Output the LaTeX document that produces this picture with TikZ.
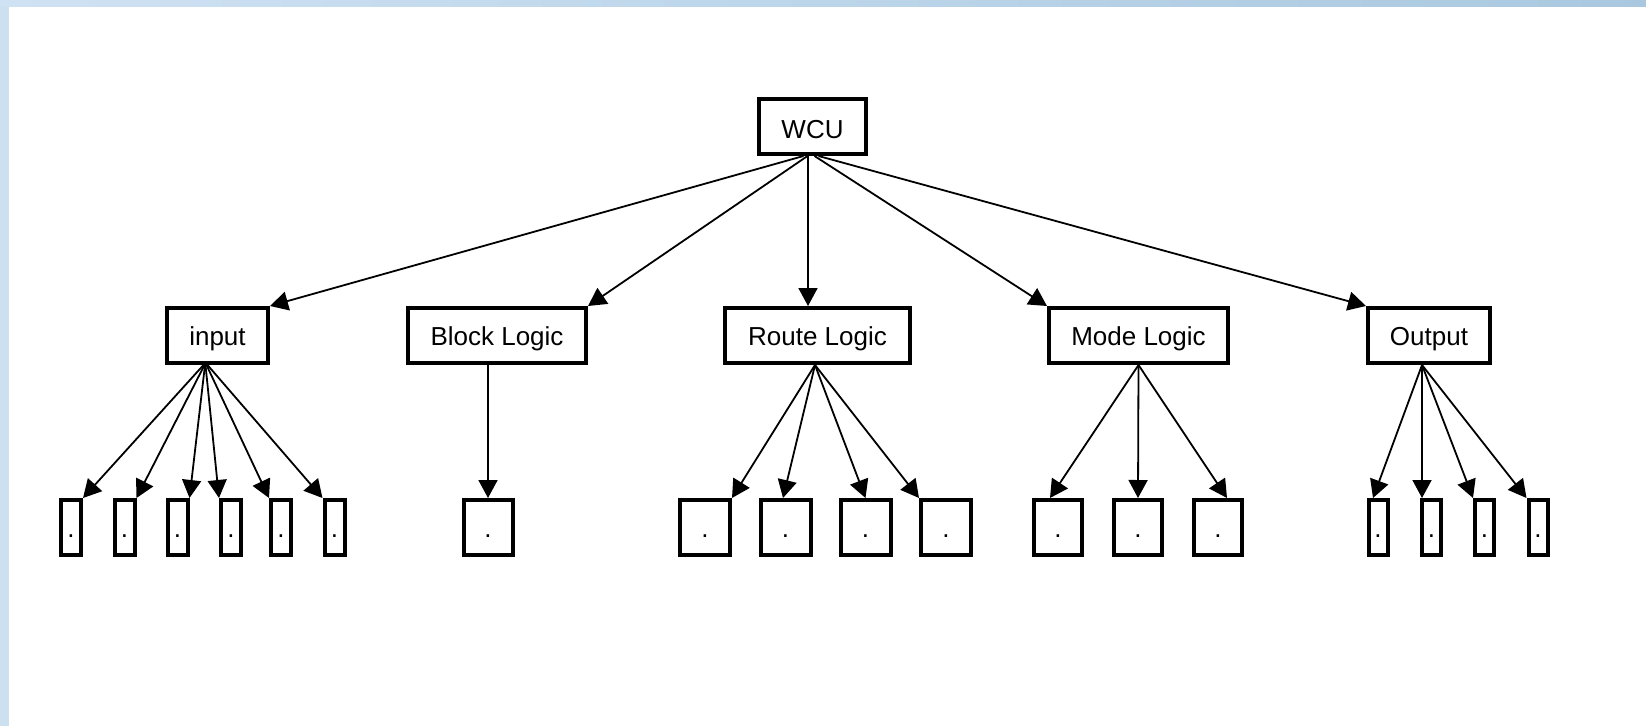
\documentclass[tikz,border=0pt]{standalone}
\usepackage{fontspec}
\setmainfont{Liberation Sans}
\usetikzlibrary{arrows.meta}
\definecolor{bandL}{HTML}{CFE2F3}
\definecolor{bandR}{HTML}{A9C8DF}
\definecolor{bandSide}{HTML}{CCE0F0}
\begin{document}
\begin{tikzpicture}[x=1pt,y=-1pt,
  box/.style={draw,line width=4pt,inner sep=0pt,minimum height=55pt,
    text height=20pt,text depth=0pt,font=\fontsize{26}{30}\selectfont},
  leaf/.style={box,minimum width=#1},
  conn/.style={line width=1.8pt,-{Triangle[width=19pt,length=18pt]}}]
\useasboundingbox (0,0) rectangle (1646,726);
% page frame
\fill[white] (0,0) rectangle (1646,726);
\fill[bandSide] (0,0) rectangle (9,726);
\shade[left color=bandL,right color=bandR] (0,0) rectangle (1646,6);

% root
\node[box,minimum width=107pt,text height=23pt] (wcu) at (812.5,126.5) {WCU};

% second level
\node[box,minimum width=101pt] (in) at (217.5,335.5) {input};
\node[box,minimum width=178pt] (bl) at (497,335.5) {Block Logic};
\node[box,minimum width=185pt] (rt) at (817.5,335.5) {Route Logic};
\node[box,minimum width=179pt] (md) at (1138.5,335.5) {Mode Logic};
\node[box,minimum width=122pt] (op) at (1429,335.5) {Output};

% leaves
\node[leaf=20pt] (i1) at (71,527.5) {.};
\node[leaf=20pt] (i2) at (124.5,527.5) {.};
\node[leaf=20pt] (i3) at (177.5,527.5) {.};
\node[leaf=20pt] (i4) at (231,527.5) {.};
\node[leaf=20pt] (i5) at (281,527.5) {.};
\node[leaf=20pt] (i6) at (334.5,527.5) {.};
\node[leaf=49pt] (b1) at (488,527.5) {.};
\node[leaf=50pt] (r1) at (705,527.5) {.};
\node[leaf=50pt] (r2) at (785.5,527.5) {.};
\node[leaf=50pt] (r3) at (865.5,527.5) {.};
\node[leaf=50pt] (r4) at (946,527.5) {.};
\node[leaf=48pt] (m1) at (1058,527.5) {.};
\node[leaf=48pt] (m2) at (1138,527.5) {.};
\node[leaf=48pt] (m3) at (1218,527.5) {.};
\node[leaf=19pt] (o1) at (1378,527.5) {.};
\node[leaf=19pt] (o2) at (1431.5,527.5) {.};
\node[leaf=19pt] (o3) at (1484.5,527.5) {.};
\node[leaf=19pt] (o4) at (1538,527.5) {.};

% root to second level
\draw[conn] ([xshift=-9pt]wcu.south) -- (in.north east);
\draw[conn] ([xshift=-5pt]wcu.south) -- (bl.north east);
\draw[conn] ([xshift=-4.5pt]wcu.south) -- ([xshift=-9.5pt]rt.north);
\draw[conn] ([xshift=2pt]wcu.south) -- (md.north west);
\draw[conn] ([xshift=6pt]wcu.south) -- (op.north west);

% input
\draw[conn] ([xshift=-14pt]in.south) -- (i1.north east);
\draw[conn] ([xshift=-13pt]in.south) -- (i2.north east);
\draw[conn] ([xshift=-12.5pt]in.south) -- (i3.north east);
\draw[conn] ([xshift=-12pt]in.south) -- (i4.north west);
\draw[conn] ([xshift=-11pt]in.south) -- (i5.north west);
\draw[conn] ([xshift=-10pt]in.south) -- (i6.north west);

% block logic
\draw[conn] (bl.south -| b1.north) -- (b1.north);

% route logic
\draw[conn] ([xshift=-2.5pt]rt.south) -- (r1.north east);
\draw[conn] ([xshift=-2.5pt]rt.south) -- ([xshift=-2.5pt]r2.north);
\draw[conn] ([xshift=-2.5pt]rt.south) -- (r3.north);
\draw[conn] ([xshift=-2.5pt]rt.south) -- (r4.north west);

% mode logic
\draw[conn] (md.south) -- ([xshift=-8pt]m1.north);
\draw[conn] (md.south) -- (m2.north);
\draw[conn] (md.south) -- ([xshift=9pt]m3.north);

% output
\draw[conn] ([xshift=-7pt]op.south) -- ([xshift=-5pt]o1.north);
\draw[conn] ([xshift=-7pt]op.south) -- ([xshift=-9.5pt]o2.north);
\draw[conn] ([xshift=-7pt]op.south) -- (o3.north west);
\draw[conn] ([xshift=-7pt]op.south) -- (o4.north west);
\end{tikzpicture}
\end{document}
